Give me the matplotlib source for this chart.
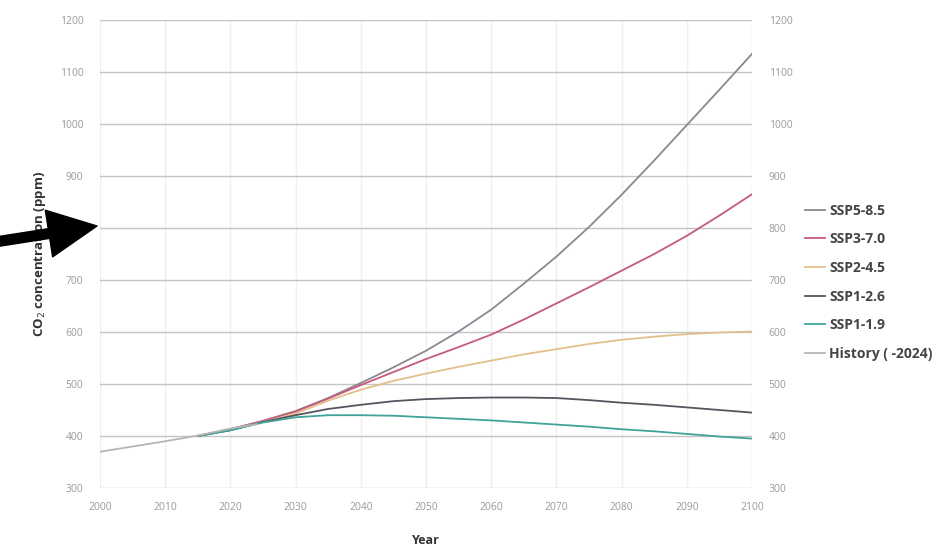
import numpy as np
import matplotlib.pyplot as plt

plt.rcParams['font.family'] = ['Open Sans', 'DejaVu Sans']

# historical observations
hist_years = [2000, 2005, 2010, 2015, 2020, 2024]
hist_co2 = [369.7, 379.8, 389.9, 400.8, 414.2, 422.8]

# scenario projections (every 5 years)
ssp_years = [2015, 2020, 2025, 2030, 2035, 2040, 2045, 2050, 2055, 2060, 2065,
             2070, 2075, 2080, 2085, 2090, 2095, 2100]
ssp585 = [400, 413, 429, 448, 473, 502, 532, 564, 601, 643, 693,
          745, 802, 864, 930, 998, 1066, 1135]
ssp370 = [400, 413, 429, 447, 472, 498, 523, 548, 571, 595, 624,
          655, 686, 718, 750, 785, 824, 865]
ssp245 = [400, 412, 427, 443, 468, 489, 506, 520, 533, 545, 557,
          567, 577, 585, 591, 596, 599, 601]
ssp126 = [400, 411, 427, 440, 452, 460, 467, 471, 473, 474, 474,
          473, 469, 464, 460, 455, 450, 445]
ssp119 = [400, 411, 426, 436, 440, 440, 439, 436, 433, 430, 426,
          422, 418, 413, 409, 404, 399, 395]

series = [
    ("SSP5-8.5", ssp585, "#8b8794"),
    ("SSP3-7.0", ssp370, "#c9587a"),
    ("SSP2-4.5", ssp245, "#e3bf8a"),
    ("SSP1-2.6", ssp126, "#55555f"),
    ("SSP1-1.9", ssp119, "#3fa39a"),
]

fig = plt.figure(figsize=(9.45, 5.56), dpi=100)
ax = fig.add_axes([0.1058, 0.1223, 0.690, 0.8417])

for name, vals, col in series:
    ax.plot(ssp_years, vals, color=col, lw=1.3, label=name)
ax.plot(hist_years, hist_co2, color="#b5b5b5", lw=1.3, label="History ( -2024)")

ax.set_xlim(2000, 2100)
ax.set_ylim(300, 1200)
ax.set_xticks(np.arange(2000, 2101, 10))
ax.set_yticks(np.arange(300, 1201, 100))
ax.grid(axis="y", color="#c4c4c4", lw=1.0)
ax.grid(axis="x", color="#efefef", lw=1.0)
ax.set_axisbelow(True)
for s in ax.spines.values():
    s.set_visible(False)
ax.tick_params(length=0, labelsize=7.5, labelcolor="#9a9a9a", pad=12,
               labelright=True)
ax.tick_params(axis="x", pad=10)

ax.set_xlabel("Year", fontsize=9, fontweight="bold", color="#333333", labelpad=15)
ax.set_ylabel("CO$_2$ concentration (ppm)", fontsize=9.5, fontweight="bold",
              color="#333333", labelpad=8)

leg = fig.legend(loc="upper left", bbox_to_anchor=(0.839, 0.656), frameon=False,
                 handlelength=1.4, handletextpad=0.3, labelspacing=1.05,
                 prop={"size": 10, "weight": "bold"})
for t in leg.get_texts():
    t.set_color("#444444")

# big black pointer arrow on the left
ax.annotate("", xy=(97, 330), xycoords="figure pixels",
            xytext=(-5, 314), textcoords="figure pixels",
            arrowprops=dict(facecolor="black", edgecolor="black",
                            width=7, headwidth=34, headlength=35))

fig.savefig("out.png", dpi=100)
